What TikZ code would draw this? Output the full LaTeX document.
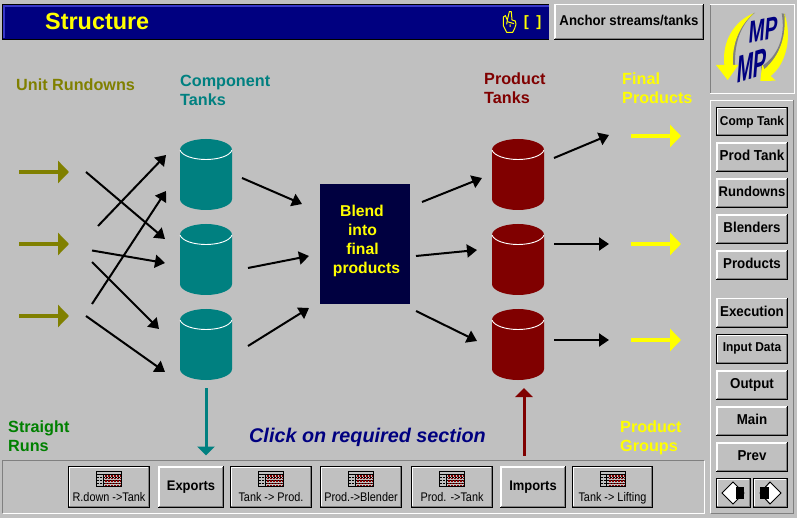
\documentclass[tikz,border=0pt]{standalone}
\usepackage{fontspec}
\setmainfont{Liberation Sans}
\usetikzlibrary{arrows.meta}
\definecolor{bg}{HTML}{C0C0C0}
\definecolor{navyb}{HTML}{000080}
\definecolor{lblue}{HTML}{3838C8}
\definecolor{blendc}{HTML}{000040}
\definecolor{tealc}{HTML}{008080}
\definecolor{redc}{HTML}{800000}
\definecolor{olivec}{HTML}{808000}
\definecolor{greenc}{HTML}{008000}
\definecolor{yel}{HTML}{FFFF00}
\definecolor{dgray}{HTML}{808080}
\newcommand\fsz[1]{\fontsize{#1}{#1}\selectfont}
\tikzset{
  lab/.style={anchor=base west,inner sep=0pt,font=\fsz{16.2}\bfseries},
  blk/.style={draw=black,line width=2pt,-{Triangle[length=10pt,width=13pt]}},
  fat/.style={line width=4pt,-{Triangle[length=11pt,width=22pt]}},
  btnt/.style={inner sep=0pt,anchor=center,align=center},
  ghost/.style={inner sep=0pt,minimum width=52pt,minimum height=71pt},
}
% name x1 y1 x2 y2 size text  : raised button
\newcommand\btn[7]{%
  \fill[bg] (#2,#3) rectangle (#4,#5);
  \draw[white,line width=1.5pt] (#2+.75,#5-1) -- (#2+.75,#3+.75) -- (#4-1,#3+.75);
  \draw[black,line width=1pt] (#2,#5-.5) -- (#4-.5,#5-.5) -- (#4-.5,#3);
  \draw[dgray,line width=1pt] (#2+1,#5-1.5) -- (#4-1.5,#5-1.5) -- (#4-1.5,#3+1);
  \pgfmathsetmacro\cxx{(#2+#4)/2}\pgfmathsetmacro\cyy{(#3+#5)/2}
  \pgfmathsetmacro\fss{#6*1.07}
  \node[btnt,font=\fsz{\fss}\bfseries] (#1) at (\cxx,\cyy) {\scalebox{.93}[1]{\vphantom{Ag}#7}};
}
% same with a black outline
\newcommand\btnb[7]{%
  \btn{#1}{#2}{#3}{#4}{#5}{#6}{#7}
  \draw[black,line width=1pt] (#2+.5,#3+.5) rectangle (#4-.5,#5-.5);
  \draw[white,line width=1pt] (#2+1.5,#5-2) -- (#2+1.5,#3+1.5) -- (#4-2,#3+1.5);
}
% table button: name x1 x2 text
\newcommand\tbtn[4]{%
  \btnb{#1f}{#2}{466}{#3}{507.5}{1}{}
  \pgfmathsetmacro\cxx{(#2+#3)/2}
  \node[inner sep=0pt,anchor=base,font=\fsz{12.5}] (#1) at (\cxx,501) {\scalebox{.87}[1]{#4}};
  \begin{scope}[shift={(\cxx-13,471)}]
    \fill[bg] (0,0) rectangle (26,16);
    \foreach \yy in {3,6,9,12} {\draw[black,line width=1pt,dash pattern=on 2pt off 1pt] (1,\yy) -- (25,\yy);}
    \foreach \yy in {5,7.5,10,12.5,15} {\draw[redc,line width=1.5pt,dash pattern=on 2pt off 1pt] (9,\yy) -- (25,\yy);}
    \fill[bg] (0,.5) rectangle (26,2.5);
    \draw[black,line width=1pt] (.5,.5) rectangle (25.5,15.5);
    \draw[black,line width=1pt] (.5,3) -- (25.5,3);
    \draw[black,line width=1pt] (7,3) -- (7,15.5);
  \end{scope}
}
% tank: name x y colour
\newcommand\tank[4]{%
  \begin{scope}[shift={(#2,#3)}]
    \fill[#4] (0,11) .. controls (0,5) and (11.6,0) .. (26,0) .. controls (40.4,0) and (52,5) .. (52,11)
      -- (52,60) .. controls (52,66) and (40.4,71) .. (26,71) .. controls (11.6,71) and (0,66) .. (0,60) -- cycle;
    \draw[white,line width=.9pt] (0,11) .. controls (2,17) and (14,20.5) .. (26,20.5) .. controls (38,20.5) and (50,17) .. (52,11);
    \node[ghost] (#1) at (26,35.5) {};
  \end{scope}
}
% connector
\newcommand\arr[6][blk]{%
  \coordinate (#2s) at (#3,#4);
  \coordinate (#2e) at (#5,#6);
  \draw[#1] (#2s) -- (#2e);
}
\begin{document}
\begin{tikzpicture}[x=1pt,y=-1pt]
\useasboundingbox (0,0) rectangle (797,518);
\fill[bg] (0,0) rectangle (797,518);

% title bar
\fill[black] (2,4) rectangle (548.5,40);
\fill[navyb] (3,5) rectangle (548.5,39);
\draw[lblue,line width=2pt] (4,38.5) -- (4,6) -- (548.5,6);
\node[lab,font=\fsz{23.4}\bfseries,text=yel] (title) at (45,30) {Structure};
\begin{scope}[shift={(490,5)},x=.3333pt,y=-.3333pt]
  \draw[yel,line width=1pt,line join=round] (52,45) -- (58,20) -- (64,20) -- (66,45) -- (76,48) -- (78,58) -- (74,70) -- (68,82) -- (50,82) -- (40,62) -- (40,36) -- (46,32) -- (52,45) -- (50,58);
  \draw[yel,line width=1pt] (52,50) -- (72,56) (60,58) -- (60,66);
\end{scope}
\node[inner sep=0pt,anchor=base,font=\fsz{15}\bfseries,text=yel] (anch) at (532.5,27) {[\,\,\,]};

\btn{anchor}{554}{4}{704}{40}{13.3}{Anchor streams/tanks}

% logo panel
\draw[white,line width=1pt] (710.5,94) -- (710.5,4.5) -- (794.5,4.5) -- (794.5,94) -- cycle;
\draw[dgray,line width=1pt] (710.5,93.5) -- (710.5,5);
\begin{scope}[shift={(705,0)},x=.3333pt,y=-.3333pt]
  \fill[dgray] (150,38) .. controls (104,60) and (78,120) .. (82,195) -- (90,195) .. controls (88,120) and (112,70) .. (150,38) -- cycle;
  \fill[yel] (146,40) .. controls (88,62) and (50,125) .. (58,195) -- (33,195) -- (68,240) -- (100,195) -- (84,195) .. controls (80,130) and (105,75) .. (146,40) -- cycle;
  \fill[dgray] (230,40) .. controls (243,110) and (218,170) .. (168,200) -- (172,225) .. controls (225,190) and (245,120) .. (240,42) -- cycle;
  \fill[yel] (238,40) .. controls (244,110) and (226,165) .. (178,208) -- (172,190) -- (166,243) -- (212,242) -- (197,228) .. controls (245,190) and (262,110) .. (238,40) -- cycle;
\end{scope}
\begin{scope}[shift={(764,29.5)},transform shape,yslant=.2,xslant=.08]
  \node[inner sep=0pt,text=navyb,font=\fsz{31}\bfseries] (mp1) at (0,0) {\scalebox{.62}[1]{MP}};
\end{scope}
\begin{scope}[shift={(752,65.5)},transform shape,yslant=.3,xslant=.08]
  \node[inner sep=0pt,text=navyb,font=\fsz{38}\bfseries] (mp2) at (0,0) {\scalebox{.52}[1]{MP}};
\end{scope}

% side panel
\draw[white,line width=1pt] (710.5,513) -- (710.5,100.5) -- (793,100.5);
\draw[dgray,line width=1pt] (793,100.5) -- (793,513) -- (710.5,513);
\btnb{comp}{716}{107}{788}{136.5}{12}{Comp Tank}
\btn{prod}{716}{142.5}{788}{172}{13.5}{Prod Tank}
\btn{rund}{716}{178.5}{788}{208}{13.1}{Rundowns}
\btn{blen}{716}{214.5}{788}{244}{13.4}{Blenders}
\btn{prods}{716}{250.5}{788}{280}{13.4}{Products}
\btn{exec}{716}{298}{788}{327.5}{13.4}{Execution}
\btnb{input}{716}{334}{788}{363.5}{12}{Input Data}
\btn{output}{716}{370}{788}{399.5}{13.4}{Output}
\btn{main}{716}{406}{788}{435.5}{13.4}{Main}
\btn{prev}{716}{442}{788}{471.5}{13.4}{Prev}
\btnb{left}{716}{478}{751}{507.5}{1}{}
\btnb{right}{753}{478}{788}{507.5}{1}{}
\fill[white] (722,493) -- (733,482) -- (744,493) -- (733,504) -- cycle;
\draw[black,line width=1pt] (722,493) -- (733,482) -- (744,493) -- (733,504) -- cycle;
\fill[black] (736,487) rectangle (744,499);
\fill[white] (760,493) -- (770,482) -- (781,493) -- (770,504) -- cycle;
\draw[black,line width=1pt] (760,493) -- (770,482) -- (781,493) -- (770,504) -- cycle;
\fill[black] (760,487) rectangle (769,499);

% bottom panel
\draw[dgray,line width=1pt] (2.5,513) -- (2.5,460.5) -- (704,460.5);
\draw[white,line width=1pt] (704,460.5) -- (704,513.5) -- (2.5,513.5);
\tbtn{rdown}{68}{150}{R.down ->Tank}
\btn{exports}{158}{466}{224}{507.5}{13}{Exports}
\tbtn{tankprod}{230}{312}{Tank -> Prod.}
\tbtn{prodblend}{320}{402}{Prod.->Blender}
\tbtn{prodtank}{411}{493}{Prod. ->Tank}
\btn{imports}{500}{466}{566}{507.5}{13}{Imports}
\tbtn{tanklift}{572}{653}{Tank -> Lifting}

% labels
\node[lab,text=olivec] (l1) at (16,91) {Unit Rundowns};
\node[lab,text=tealc] (l2) at (180,86.5) {Component};
\node[lab,text=tealc] (l3) at (180,105.5) {Tanks};
\node[lab,text=redc] (l4) at (484,85) {Product};
\node[lab,text=redc] (l5) at (484,104) {Tanks};
\node[lab,text=yel] (l6) at (622,85) {Final};
\node[lab,text=yel] (l7) at (622,104) {Products};
\node[lab,text=greenc] (l8) at (8,432.5) {Straight};
\node[lab,text=greenc] (l9) at (8,451.5) {Runs};
\node[lab,text=yel] (l10) at (620,432.5) {Product};
\node[lab,text=yel] (l11) at (620,451.5) {Groups};
\node[lab,text=navyb,font=\fsz{19.8}\bfseries\itshape] (click) at (249,442) {Click on required section};

% tanks
\tank{ct1}{180}{139}{tealc}
\tank{ct2}{180}{224}{tealc}
\tank{ct3}{180}{309}{tealc}
\tank{pt1}{492}{139}{redc}
\tank{pt2}{492}{224}{redc}
\tank{pt3}{492}{309}{redc}

% blender
\node[fill=blendc,minimum width=90pt,minimum height=120pt,inner sep=0pt] (blend) at (365,244) {};
\foreach \nm/\txt/\xx/\yy in {b1/Blend/362/217,b2/into/362.5/236,b3/final/362.5/255,b4/products/366.5/274}
  {\node[inner sep=0pt,anchor=base,font=\fsz{15.7}\bfseries,text=yel] (\nm) at (\xx,\yy) {\txt};}

% fat arrows
\arr[fat,draw=olivec,olivec]{r1}{19}{172}{69}{172}
\arr[fat,draw=olivec,olivec]{r2}{19}{244}{69}{244}
\arr[fat,draw=olivec,olivec]{r3}{19}{316}{69}{316}
\arr[fat,draw=yel,yel]{y1}{631}{136}{681}{136}
\arr[fat,draw=yel,yel]{y2}{631}{244}{681}{244}
\arr[fat,draw=yel,yel]{y3}{631}{340}{681}{340}
\tikzset{vert/.style={line width=3pt,-{Triangle[length=9pt,width=17pt]}}}
\arr[vert,draw=tealc,tealc]{exp}{206}{388}{206}{455.5}
\arr[vert,draw=redc,redc]{imp}{524}{455.5}{524}{388}

% black arrows
\arr{a1}{86}{172}{165}{239}
\arr{a2}{98}{226}{166}{155}
\arr{a3}{92}{250.5}{165}{263}
\arr{a4}{92}{262}{159}{329}
\arr{a5}{92}{304}{166}{191}
\arr{a6}{86}{316}{165}{372}
\arr{a7}{242}{178}{302}{204}
\arr{a8}{248}{268}{309}{256}
\arr{a9}{248}{346}{309}{308}
\arr{a10}{422}{202}{482}{178}
\arr{a11}{416}{256}{477}{250}
\arr{a12}{416}{311}{477}{341}
\arr{a13}{554}{158}{609}{135}
\arr{a14}{554}{244}{609}{244}
\arr{a15}{554}{340}{609}{340}
\end{tikzpicture}
\end{document}
